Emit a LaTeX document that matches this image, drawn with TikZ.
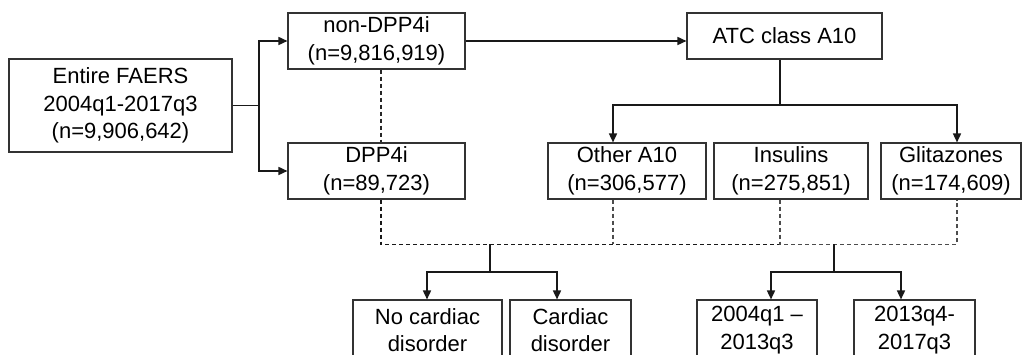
\documentclass[tikz,border=0pt]{standalone}
\usepackage{fontspec}
\setmainfont{Liberation Sans}
\usetikzlibrary{arrows.meta}
\begin{document}
\begin{tikzpicture}[x=1pt,y=-1pt,
  box/.style={draw=black!80, line width=1.1pt, inner sep=0pt, align=center,
    font=\fontsize{22}{27.5}\selectfont, text=black},
  conn/.style={line width=1.6pt, draw=black!90},
  arr/.style={conn, -{Triangle[length=9pt,width=8pt]}},
  dashmain/.style={line width=1.6pt, draw=black!90, dash pattern=on 4pt off 3pt},
  dashthin/.style={line width=1.2pt, draw=black!70, dash pattern=on 4pt off 3pt},
  dashmid/.style={line width=1.2pt, draw=black!85, dash pattern=on 4pt off 3pt}]
\useasboundingbox (0,0) rectangle (1022,355);
% boxes
\node[box, minimum width=223pt, minimum height=93pt] (faers) at (120.5,105.5) {Entire FAERS\\2004q1-2017q3\\(n=9,906,642)};
\node[box, minimum width=177pt, minimum height=56pt] (non) at (376.5,41) {non-DPP4i\\(n=9,816,919)};
\node[box, minimum width=177pt, minimum height=56pt] (dpp) at (376.5,171) {DPP4i\\(n=89,723)};
\node[box, minimum width=195pt, minimum height=46pt] (atc) at (784.5,36) {ATC class A10};
\node[box, minimum width=158pt, minimum height=56pt] (other) at (627,171) {Other A10\\(n=306,577)};
\node[box, minimum width=154pt, minimum height=56pt] (ins) at (791,171) {Insulins\\(n=275,851)};
\node[box, minimum width=140pt, minimum height=56pt] (glit) at (951,171) {Glitazones\\(n=174,609)};
\node[box, minimum width=149pt, minimum height=60pt] (nocard) at (427.5,330) {No cardiac\\disorder};
\node[box, minimum width=121pt, minimum height=60pt] (card) at (570.5,330) {Cardiac\\disorder};
\node[box, minimum width=120pt, minimum height=60pt] (p1) at (757,330) {2004q1 –\\2013q3};
\node[box, minimum width=121pt, minimum height=60pt] (p2) at (914.5,330) {2013q4-\\2017q3};
% helper coordinates
\coordinate (j1) at (259,105.5);
\coordinate (xd) at (381,0);
\coordinate (xo) at (613,0);
\coordinate (xi) at (780,0);
\coordinate (xg) at (957,0);
\coordinate (xb1) at (490,0);
\coordinate (xb2) at (834,0);
\coordinate (xn1) at (427,0);
\coordinate (xc1) at (557,0);
\coordinate (xp1) at (771,0);
\coordinate (xp2) at (901,0);
\coordinate (ya) at (0,105);
\coordinate (yb) at (0,244.5);
\coordinate (yl) at (0,272);
% connectors
\draw[conn] (faers.east) -- (j1);
\draw[arr] (j1) |- (non.west);
\draw[arr] (j1) |- (dpp.west);
\draw[arr] (non.east) -- (non.east -| atc.west);
\draw[conn] (atc.south -| xi) -- (xi |- ya);
\draw[arr] (xi |- ya) -| (other.north -| xo);
\draw[arr] (xi |- ya) -| (glit.north -| xg);
% dashed
\draw[dashmid] (non.south -| xd) -- (dpp.north -| xd);
\draw[dashmain] (dpp.south -| xd) |- (xi |- yb);
\draw[dashthin] (other.south -| xo) -- (xo |- yb);
\draw[dashthin] (ins.south -| xi) -- (xi |- yb) -| (glit.south -| xg);
% lower
\draw[conn] (xb1 |- yb) -- (xb1 |- yl);
\draw[arr] (xb1 |- yl) -| (nocard.north -| xn1);
\draw[arr] (xb1 |- yl) -| (card.north -| xc1);
\draw[conn] (xb2 |- yb) -- (xb2 |- yl);
\draw[arr] (xb2 |- yl) -| (p1.north -| xp1);
\draw[arr] (xb2 |- yl) -| (p2.north -| xp2);
\end{tikzpicture}
\end{document}
